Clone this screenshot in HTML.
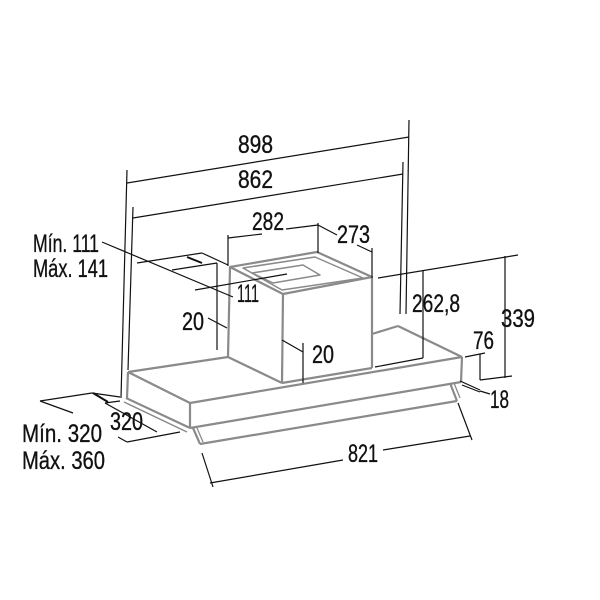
<!DOCTYPE html>
<html><head><meta charset="utf-8"><style>
html,body{margin:0;padding:0;background:#fff;}
svg{display:block;}
text{font-family:"Liberation Sans Narrow","Liberation Sans",sans-serif;fill:#111;stroke:#111;stroke-width:0.35;}
</style></head><body>
<svg width="600" height="600" viewBox="0 0 600 600" xmlns="http://www.w3.org/2000/svg">
<rect width="600" height="600" fill="#fff"/>
<g fill="none" stroke="#8a8a8a" stroke-width="2.2" stroke-linejoin="round">
  <polygon points="230,267 317,252 372,277 283,294"/>
  <polygon points="243,268 315,257 363,278 282,290" stroke-width="1.5"/>
  <polygon points="252,273 303,265 320,275 273,283" stroke-width="1.5"/>
  <line x1="230" y1="267" x2="228" y2="357"/>
  <line x1="283" y1="294" x2="282" y2="383"/>
  <line x1="372" y1="277" x2="372" y2="368"/>
  <line x1="282" y1="383" x2="372" y2="368"/>
  <line x1="128" y1="372" x2="228" y2="357"/>
  <line x1="372" y1="334" x2="398" y2="326"/>
  <line x1="398" y1="326" x2="462" y2="357"/>
  <line x1="128" y1="372" x2="190" y2="403"/>
  <line x1="190" y1="403" x2="462" y2="357"/>
  <line x1="228" y1="357" x2="282" y2="383"/>
  <line x1="128" y1="372" x2="127" y2="398"/>
  <line x1="190" y1="403" x2="190" y2="428"/>
  <line x1="462" y1="357" x2="461" y2="382"/>
  <line x1="126" y1="398" x2="190" y2="428"/>
  <line x1="124" y1="402" x2="187" y2="432" stroke-width="1.4"/>
  <line x1="190" y1="428" x2="461" y2="382"/>
  <line x1="193" y1="428" x2="200" y2="444"/>
  <line x1="197" y1="428" x2="203" y2="442" stroke-width="1.3"/>
  <line x1="200" y1="444" x2="457" y2="401"/>
  <line x1="450" y1="383" x2="457" y2="401"/>
  <line x1="454" y1="383" x2="460" y2="398" stroke-width="1.3"/>
</g>
<g fill="none" stroke="#111" stroke-width="1.2">
  <line x1="127" y1="170" x2="121" y2="398"/>
  <line x1="133" y1="207" x2="128" y2="370"/>
  <line x1="409" y1="120" x2="406" y2="314"/>
  <line x1="403" y1="162" x2="400" y2="314"/>
  <line x1="127" y1="183" x2="409" y2="137"/>
  <line x1="133" y1="218" x2="403" y2="174"/>
  <line x1="228" y1="235" x2="228" y2="266"/>
  <line x1="228" y1="238" x2="262" y2="234"/>
  <line x1="286" y1="229" x2="318" y2="225"/>
  <line x1="318" y1="223" x2="318" y2="253"/>
  <line x1="318" y1="225" x2="337" y2="235"/>
  <line x1="357" y1="245" x2="372" y2="252"/>
  <line x1="372" y1="248" x2="372" y2="278"/>
  <line x1="378" y1="278" x2="518" y2="255"/>
  <line x1="505" y1="256" x2="505" y2="378"/>
  <line x1="423" y1="270" x2="423" y2="358"/>
  <line x1="375" y1="367" x2="423" y2="358"/>
  <line x1="465" y1="357" x2="485" y2="353"/>
  <line x1="480" y1="354" x2="480" y2="380"/>
  <line x1="480" y1="380" x2="512" y2="376"/>
  <line x1="460" y1="381" x2="480" y2="390"/>
  <line x1="462" y1="385" x2="480" y2="392"/>
  <line x1="480" y1="391" x2="490" y2="394"/>
  <line x1="282" y1="340" x2="303" y2="352"/>
  <line x1="303" y1="343" x2="303" y2="383"/>
  <line x1="208" y1="318" x2="227" y2="328"/>
  <line x1="217" y1="263" x2="217" y2="350"/>
  <line x1="102" y1="242" x2="233" y2="297"/>
  <line x1="137" y1="263" x2="202" y2="253"/>
  <line x1="202" y1="253" x2="228" y2="265"/>
  <line x1="172" y1="270" x2="217" y2="263"/>
  <line x1="195" y1="290" x2="287" y2="274"/>
  <line x1="187" y1="257" x2="202" y2="263" stroke-width="2"/>
  <line x1="40" y1="401" x2="92" y2="393"/>
  <line x1="40" y1="401" x2="73" y2="413"/>
  <line x1="92" y1="393" x2="120" y2="397"/>
  <line x1="93" y1="393" x2="108" y2="402" stroke-width="2"/>
  <line x1="105" y1="403" x2="120" y2="401"/>
  <line x1="105" y1="403" x2="157" y2="432"/>
  <line x1="118" y1="437" x2="127" y2="442"/>
  <line x1="127" y1="442" x2="180" y2="432"/>
  <line x1="202" y1="453" x2="213" y2="487"/>
  <line x1="458" y1="403" x2="472" y2="440"/>
  <line x1="210" y1="483" x2="343" y2="460"/>
  <line x1="383" y1="450" x2="470" y2="436"/>
</g>
<g font-size="25">
  <text x="238" y="153" textLength="35" lengthAdjust="spacingAndGlyphs">898</text>
  <text x="238" y="188" textLength="35" lengthAdjust="spacingAndGlyphs">862</text>
  <text x="252" y="230" textLength="32" lengthAdjust="spacingAndGlyphs">282</text>
  <text x="337" y="243" textLength="33" lengthAdjust="spacingAndGlyphs">273</text>
  <text x="237" y="302" textLength="22" lengthAdjust="spacingAndGlyphs">111</text>
  <text x="182" y="330" textLength="22" lengthAdjust="spacingAndGlyphs">20</text>
  <text x="412" y="312" textLength="48" lengthAdjust="spacingAndGlyphs">262,8</text>
  <text x="501" y="327" textLength="34" lengthAdjust="spacingAndGlyphs">339</text>
  <text x="473" y="349" textLength="21" lengthAdjust="spacingAndGlyphs">76</text>
  <text x="312" y="363" textLength="22" lengthAdjust="spacingAndGlyphs">20</text>
  <text x="490" y="408" textLength="19" lengthAdjust="spacingAndGlyphs">18</text>
  <text x="348" y="462" textLength="30" lengthAdjust="spacingAndGlyphs">821</text>
  <text x="110" y="430" textLength="33" lengthAdjust="spacingAndGlyphs">320</text>
  <text x="22" y="442" textLength="80" lengthAdjust="spacingAndGlyphs">Mín. 320</text>
  <text x="22" y="469" textLength="83" lengthAdjust="spacingAndGlyphs">Máx. 360</text>
  <text x="33" y="252" textLength="66" lengthAdjust="spacingAndGlyphs">Mín. 111</text>
  <text x="33" y="277" textLength="75" lengthAdjust="spacingAndGlyphs">Máx. 141</text>
</g>
</svg>
</body></html>
